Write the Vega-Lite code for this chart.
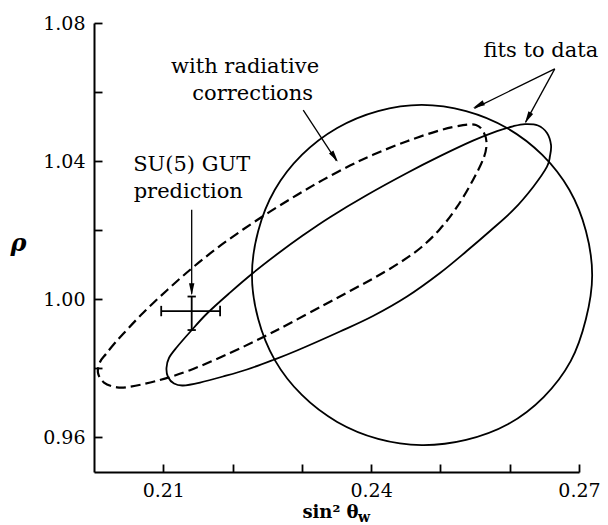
{
  "$schema": "https://vega.github.io/schema/vega-lite/v6.json",
  "width": 485,
  "height": 449,
  "autosize": {"type": "none"},
  "padding": {"left": 94, "top": 23, "right": 29, "bottom": 53},
  "background": "white",
  "config": {
    "view": {"stroke": null},
    "axis": {
      "grid": false,
      "domainColor": "black",
      "domainWidth": 2,
      "tickColor": "black",
      "tickWidth": 1.8,
      "tickSize": -8,
      "labelFont": "DejaVu Serif",
      "labelFontSize": 19,
      "labelColor": "black",
      "labelOverlap": false,
      "labelBound": false,
      "labelFlush": false,
      "titleColor": "black"
    }
  },
  "datasets": {
    "curves": [
      {"c":"circle","i":0,"x":0.2719,"y":1.0070},
      {"c":"circle","i":1,"x":0.2710,"y":0.9943},
      {"c":"circle","i":2,"x":0.2688,"y":0.9821},
      {"c":"circle","i":3,"x":0.2649,"y":0.9717},
      {"c":"circle","i":4,"x":0.2598,"y":0.9639},
      {"c":"circle","i":5,"x":0.2537,"y":0.9593},
      {"c":"circle","i":6,"x":0.2473,"y":0.9578},
      {"c":"circle","i":7,"x":0.2410,"y":0.9596},
      {"c":"circle","i":8,"x":0.2351,"y":0.9645},
      {"c":"circle","i":9,"x":0.2300,"y":0.9723},
      {"c":"circle","i":10,"x":0.2261,"y":0.9824},
      {"c":"circle","i":11,"x":0.2237,"y":0.9943},
      {"c":"circle","i":12,"x":0.2228,"y":1.0070},
      {"c":"circle","i":13,"x":0.2237,"y":1.0198},
      {"c":"circle","i":14,"x":0.2261,"y":1.0317},
      {"c":"circle","i":15,"x":0.2300,"y":1.0418},
      {"c":"circle","i":16,"x":0.2351,"y":1.0496},
      {"c":"circle","i":17,"x":0.2410,"y":1.0545},
      {"c":"circle","i":18,"x":0.2473,"y":1.0563},
      {"c":"circle","i":19,"x":0.2537,"y":1.0545},
      {"c":"circle","i":20,"x":0.2596,"y":1.0496},
      {"c":"circle","i":21,"x":0.2647,"y":1.0418},
      {"c":"circle","i":22,"x":0.2686,"y":1.0317},
      {"c":"circle","i":23,"x":0.2710,"y":1.0198},

      {"c":"solid","i":1,"x":0.21046,"y":0.98011},
      {"c":"solid","i":2,"x":0.21082,"y":0.98301},
      {"c":"solid","i":3,"x":0.21198,"y":0.98619},
      {"c":"solid","i":4,"x":0.21386,"y":0.99054},
      {"c":"solid","i":5,"x":0.21631,"y":0.99589},
      {"c":"solid","i":6,"x":0.21963,"y":1.00194},
      {"c":"solid","i":7,"x":0.22295,"y":1.00762},
      {"c":"solid","i":8,"x":0.22641,"y":1.01303},
      {"c":"solid","i":9,"x":0.23017,"y":1.01853},
      {"c":"solid","i":10,"x":0.23406,"y":1.02378},
      {"c":"solid","i":11,"x":0.2394,"y":1.0302},
      {"c":"solid","i":12,"x":0.24518,"y":1.03657},
      {"c":"solid","i":13,"x":0.24994,"y":1.04144},
      {"c":"solid","i":14,"x":0.2547,"y":1.04593},
      {"c":"solid","i":15,"x":0.25817,"y":1.0487},
      {"c":"solid","i":16,"x":0.26047,"y":1.05009},
      {"c":"solid","i":17,"x":0.26221,"y":1.05073},
      {"c":"solid","i":18,"x":0.26408,"y":1.05033},
      {"c":"solid","i":19,"x":0.26538,"y":1.04815},
      {"c":"solid","i":20,"x":0.26596,"y":1.04468},
      {"c":"solid","i":21,"x":0.26581,"y":1.0415},
      {"c":"solid","i":22,"x":0.26538,"y":1.0384},
      {"c":"solid","i":23,"x":0.26341,"y":1.03261},
      {"c":"solid","i":24,"x":0.26052,"y":1.02586},
      {"c":"solid","i":25,"x":0.25716,"y":1.01978},
      {"c":"solid","i":26,"x":0.25384,"y":1.01405},
      {"c":"solid","i":27,"x":0.24994,"y":1.00762},
      {"c":"solid","i":28,"x":0.24518,"y":1.00081},
      {"c":"solid","i":29,"x":0.24027,"y":0.99517},
      {"c":"solid","i":30,"x":0.23551,"y":0.99068},
      {"c":"solid","i":31,"x":0.2293,"y":0.98518},
      {"c":"solid","i":32,"x":0.22584,"y":0.98243},
      {"c":"solid","i":33,"x":0.22208,"y":0.97968},
      {"c":"solid","i":34,"x":0.21862,"y":0.97765},
      {"c":"solid","i":35,"x":0.2153,"y":0.97591},
      {"c":"solid","i":36,"x":0.21285,"y":0.97505},
      {"c":"solid","i":37,"x":0.21155,"y":0.97562},
      {"c":"solid","i":38,"x":0.21068,"y":0.97751},

      {"c":"dashed","i":1,"x":0.20058,"y":0.97866},
      {"c":"dashed","i":2,"x":0.20087,"y":0.98185},
      {"c":"dashed","i":3,"x":0.20173,"y":0.98417},
      {"c":"dashed","i":4,"x":0.20289,"y":0.98706},
      {"c":"dashed","i":5,"x":0.20419,"y":0.98996},
      {"c":"dashed","i":6,"x":0.20707,"y":0.99604},
      {"c":"dashed","i":7,"x":0.21054,"y":1.00264},
      {"c":"dashed","i":8,"x":0.21414,"y":1.00901},
      {"c":"dashed","i":9,"x":0.21775,"y":1.0148},
      {"c":"dashed","i":10,"x":0.22151,"y":1.02021},
      {"c":"dashed","i":11,"x":0.2254,"y":1.02537},
      {"c":"dashed","i":12,"x":0.2293,"y":1.0302},
      {"c":"dashed","i":13,"x":0.23305,"y":1.03458},
      {"c":"dashed","i":14,"x":0.23695,"y":1.03872},
      {"c":"dashed","i":15,"x":0.24027,"y":1.04184},
      {"c":"dashed","i":16,"x":0.24518,"y":1.04578},
      {"c":"dashed","i":17,"x":0.24994,"y":1.04894},
      {"c":"dashed","i":18,"x":0.25326,"y":1.05041},
      {"c":"dashed","i":19,"x":0.25513,"y":1.05047},
      {"c":"dashed","i":20,"x":0.25614,"y":1.04873},
      {"c":"dashed","i":21,"x":0.25665,"y":1.04555},
      {"c":"dashed","i":22,"x":0.25629,"y":1.0412},
      {"c":"dashed","i":23,"x":0.2547,"y":1.03455},
      {"c":"dashed","i":24,"x":0.25239,"y":1.02673},
      {"c":"dashed","i":25,"x":0.24994,"y":1.02036},
      {"c":"dashed","i":26,"x":0.2472,"y":1.015},
      {"c":"dashed","i":27,"x":0.24417,"y":1.01066},
      {"c":"dashed","i":28,"x":0.24056,"y":1.00632},
      {"c":"dashed","i":29,"x":0.23695,"y":1.00241},
      {"c":"dashed","i":30,"x":0.23305,"y":0.99821},
      {"c":"dashed","i":31,"x":0.22829,"y":0.99308},
      {"c":"dashed","i":32,"x":0.22439,"y":0.98903},
      {"c":"dashed","i":33,"x":0.21963,"y":0.98446},
      {"c":"dashed","i":34,"x":0.21386,"y":0.97948},
      {"c":"dashed","i":35,"x":0.20909,"y":0.97641},
      {"c":"dashed","i":36,"x":0.2052,"y":0.9747},
      {"c":"dashed","i":37,"x":0.20332,"y":0.9745},
      {"c":"dashed","i":38,"x":0.20144,"y":0.97591}
    ],
    "cross": [
      {"x":0.2097,"x2":0.2182,"y":0.9966,"y2":0.9966},
      {"x":0.2141,"x2":0.2141,"y":0.9911,"y2":1.0008},
      {"x":0.2097,"x2":0.2097,"y":0.9951,"y2":0.9981},
      {"x":0.2182,"x2":0.2182,"y":0.9951,"y2":0.9981},
      {"x":0.2135,"x2":0.2147,"y":1.0008,"y2":1.0008},
      {"x":0.2135,"x2":0.2147,"y":0.9911,"y2":0.9911}
    ],
    "arrows": [
      {"id":"gut","x":0.2141,"y":1.0259,"x2":0.2141,"y2":1.0016},
      {"id":"rad","x":0.2302,"y":1.0548,"x2":0.2350,"y2":1.0401},
      {"id":"fl","x":0.2665,"y":1.0667,"x2":0.2549,"y2":1.0553},
      {"id":"fr","x":0.2665,"y":1.0667,"x2":0.2623,"y2":1.0513}
    ],
    "heads": [
      {"id":"gut","x":0.2141,"y":1.0012},
      {"id":"rad","x":0.2352,"y":1.0398},
      {"id":"fl","x":0.2547,"y":1.0554},
      {"id":"fr","x":0.2622,"y":1.0510}
    ],
    "notes": [
      {"t":"with radiative","x":0.2218,"y":1.0655},
      {"t":"corrections","x":0.2229,"y":1.0578},
      {"t":"SU(5) GUT","x":0.2141,"y":1.0372},
      {"t":"prediction","x":0.2136,"y":1.0293},
      {"t":"fits to data","x":0.2645,"y":1.0702}
    ],
    "sub": [
      {"t":"w","x":0.2381,"y":0.9355}
    ]
  },
  "layer": [
    {
      "data": {"name": "curves"},
      "transform": [{"filter": "datum.c == 'circle'"}],
      "mark": {"type": "line", "interpolate": "cardinal-closed", "color": "black", "strokeWidth": 1.8},
      "encoding": {
        "x": {"field": "x", "type": "quantitative",
              "scale": {"domain": [0.2, 0.27], "nice": false, "zero": false},
              "axis": {
                "values": [0.21, 0.22, 0.23, 0.24, 0.25, 0.26, 0.27],
                "format": ".2f",
                "labelExpr": "indexof(['0.21','0.24','0.27'], datum.label) >= 0 ? datum.label : ''",
                "labelPadding": 17,
                "title": "sin² θ",
                "titleFont": "DejaVu Serif",
                "titleFontWeight": "bold",
                "titleFontSize": 18,
                "titleAlign": "center",
                "titleBaseline": "alphabetic",
                "titleX": 236,
                "titleY": 45
              }},
        "y": {"field": "y", "type": "quantitative",
              "scale": {"domain": [0.95, 1.08], "nice": false, "zero": false},
              "axis": {
                "values": [0.96, 0.98, 1.0, 1.02, 1.04, 1.06, 1.08],
                "format": ".2f",
                "labelExpr": "indexof(['0.96','1.00','1.04','1.08'], datum.label) >= 0 ? datum.label : ''",
                "labelPadding": 17,
                "title": "ρ",
                "titleFont": "DejaVu Serif",
                "titleFontStyle": "italic",
                "titleFontWeight": "bold",
                "titleFontSize": 24,
                "titleAngle": 0,
                "titleAlign": "center",
                "titleBaseline": "middle",
                "titleX": -76,
                "titleY": 220
              }},
        "order": {"field": "i", "type": "quantitative"}
      }
    },
    {
      "data": {"name": "curves"},
      "transform": [{"filter": "datum.c == 'solid'"}],
      "mark": {"type": "line", "interpolate": "cardinal-closed", "color": "black", "strokeWidth": 1.8},
      "encoding": {
        "x": {"field": "x", "type": "quantitative", "scale": {"domain": [0.2, 0.27], "nice": false, "zero": false}},
        "y": {"field": "y", "type": "quantitative", "scale": {"domain": [0.95, 1.08], "nice": false, "zero": false}},
        "order": {"field": "i", "type": "quantitative"}
      }
    },
    {
      "data": {"name": "curves"},
      "transform": [{"filter": "datum.c == 'dashed'"}],
      "mark": {"type": "line", "interpolate": "cardinal-closed", "color": "black", "strokeWidth": 2.2, "strokeDash": [10, 5]},
      "encoding": {
        "x": {"field": "x", "type": "quantitative", "scale": {"domain": [0.2, 0.27], "nice": false, "zero": false}},
        "y": {"field": "y", "type": "quantitative", "scale": {"domain": [0.95, 1.08], "nice": false, "zero": false}},
        "order": {"field": "i", "type": "quantitative"}
      }
    },
    {
      "data": {"name": "cross"},
      "mark": {"type": "rule", "color": "black", "strokeWidth": 1.8},
      "encoding": {
        "x": {"field": "x", "type": "quantitative", "scale": {"domain": [0.2, 0.27], "nice": false, "zero": false}},
        "x2": {"field": "x2"},
        "y": {"field": "y", "type": "quantitative", "scale": {"domain": [0.95, 1.08], "nice": false, "zero": false}},
        "y2": {"field": "y2"}
      }
    },
    {
      "data": {"name": "arrows"},
      "mark": {"type": "rule", "color": "black", "strokeWidth": 1.3},
      "encoding": {
        "x": {"field": "x", "type": "quantitative", "scale": {"domain": [0.2, 0.27], "nice": false, "zero": false}},
        "x2": {"field": "x2"},
        "y": {"field": "y", "type": "quantitative", "scale": {"domain": [0.95, 1.08], "nice": false, "zero": false}},
        "y2": {"field": "y2"}
      }
    },
    {
      "data": {"name": "heads"},
      "transform": [{"filter": "datum.id == 'gut'"}],
      "mark": {"type": "point", "shape": "M0,0 L-0.45,2 L0.45,2 Z", "size": 144, "filled": true, "color": "black", "opacity": 1, "angle": 180},
      "encoding": {
        "x": {"field": "x", "type": "quantitative", "scale": {"domain": [0.2, 0.27], "nice": false, "zero": false}},
        "y": {"field": "y", "type": "quantitative", "scale": {"domain": [0.95, 1.08], "nice": false, "zero": false}}
      }
    },
    {
      "data": {"name": "heads"},
      "transform": [{"filter": "datum.id == 'rad'"}],
      "mark": {"type": "point", "shape": "M0,0 L-0.45,2 L0.45,2 Z", "size": 144, "filled": true, "color": "black", "opacity": 1, "angle": 146},
      "encoding": {
        "x": {"field": "x", "type": "quantitative", "scale": {"domain": [0.2, 0.27], "nice": false, "zero": false}},
        "y": {"field": "y", "type": "quantitative", "scale": {"domain": [0.95, 1.08], "nice": false, "zero": false}}
      }
    },
    {
      "data": {"name": "heads"},
      "transform": [{"filter": "datum.id == 'fl'"}],
      "mark": {"type": "point", "shape": "M0,0 L-0.45,2 L0.45,2 Z", "size": 144, "filled": true, "color": "black", "opacity": 1, "angle": 244},
      "encoding": {
        "x": {"field": "x", "type": "quantitative", "scale": {"domain": [0.2, 0.27], "nice": false, "zero": false}},
        "y": {"field": "y", "type": "quantitative", "scale": {"domain": [0.95, 1.08], "nice": false, "zero": false}}
      }
    },
    {
      "data": {"name": "heads"},
      "transform": [{"filter": "datum.id == 'fr'"}],
      "mark": {"type": "point", "shape": "M0,0 L-0.45,2 L0.45,2 Z", "size": 144, "filled": true, "color": "black", "opacity": 1, "angle": 209},
      "encoding": {
        "x": {"field": "x", "type": "quantitative", "scale": {"domain": [0.2, 0.27], "nice": false, "zero": false}},
        "y": {"field": "y", "type": "quantitative", "scale": {"domain": [0.95, 1.08], "nice": false, "zero": false}}
      }
    },
    {
      "data": {"name": "notes"},
      "mark": {"type": "text", "font": "DejaVu Serif", "fontSize": 21, "align": "center", "baseline": "alphabetic", "color": "black"},
      "encoding": {
        "x": {"field": "x", "type": "quantitative", "scale": {"domain": [0.2, 0.27], "nice": false, "zero": false}},
        "y": {"field": "y", "type": "quantitative", "scale": {"domain": [0.95, 1.08], "nice": false, "zero": false}},
        "text": {"field": "t"}
      }
    },
    {
      "data": {"name": "sub"},
      "mark": {"type": "text", "font": "DejaVu Serif", "fontSize": 14, "fontWeight": "bold", "align": "left", "baseline": "alphabetic", "color": "black"},
      "encoding": {
        "x": {"field": "x", "type": "quantitative", "scale": {"domain": [0.2, 0.27], "nice": false, "zero": false}},
        "y": {"field": "y", "type": "quantitative", "scale": {"domain": [0.95, 1.08], "nice": false, "zero": false}},
        "text": {"field": "t"}
      }
    }
  ]
}
